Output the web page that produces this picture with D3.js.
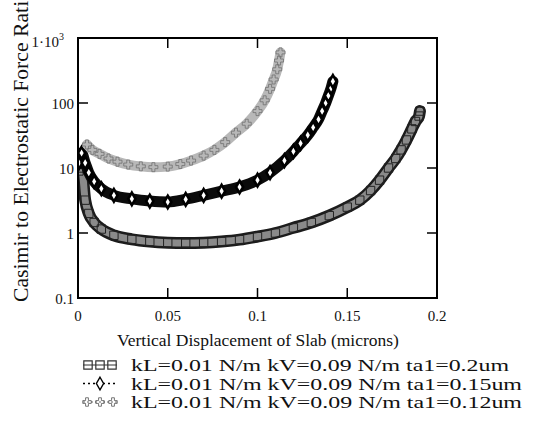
<!DOCTYPE html>
<html>
<head>
<meta charset="utf-8">
<script src="https://cdn.jsdelivr.net/npm/d3@7"></script>
<style>
body { margin: 0; background: #fff; }
text { font-family: "Liberation Serif", "Times New Roman", serif; fill: #111; }
</style>
</head>
<body>
<svg id="mainsvg" width="535" height="437"></svg>
<script>
// series: displacement (microns) and force ratio
const disp020 = [0.0005, 0.002, 0.004, 0.006, 0.009, 0.013, 0.02, 0.03, 0.04, 0.05, 0.06, 0.07, 0.08, 0.09, 0.10, 0.11, 0.12, 0.13, 0.14, 0.15, 0.157, 0.163, 0.168, 0.173, 0.177, 0.180, 0.183, 0.186, 0.188, 0.190, 0.1905];
const ratio020 = [9, 10, 3.2, 2.0, 1.45, 1.15, 0.92, 0.80, 0.74, 0.71, 0.70, 0.71, 0.74, 0.79, 0.88, 1.0, 1.2, 1.45, 1.85, 2.5, 3.2, 4.5, 6.5, 10, 14, 19, 27, 40, 52, 63, 75];

const disp015 = [0.0005, 0.002, 0.004, 0.006, 0.009, 0.013, 0.02, 0.03, 0.04, 0.05, 0.06, 0.07, 0.08, 0.09, 0.10, 0.107, 0.115, 0.12, 0.124, 0.128, 0.131, 0.134, 0.136, 0.138, 0.1395, 0.141, 0.142];
const ratio015 = [12, 17, 12, 8.5, 6.2, 4.8, 3.8, 3.35, 3.1, 3.0, 3.3, 3.8, 4.4, 5.1, 6.5, 8.5, 13, 18, 24, 32, 42, 56, 75, 100, 130, 170, 215];

const disp012 = [0.005, 0.008, 0.012, 0.017, 0.022, 0.028, 0.035, 0.042, 0.05, 0.057, 0.063, 0.07, 0.076, 0.082, 0.088, 0.094, 0.1, 0.104, 0.107, 0.109, 0.111, 0.112, 0.1128];
const ratio012 = [23, 19, 16.5, 14, 12.5, 11.3, 10.6, 10.3, 10.5, 11.5, 13, 15.5, 19, 25, 35, 48, 75, 110, 165, 230, 330, 450, 600];

const legendLabels = ["kL=0.01 N/m kV=0.09 N/m ta1=0.2um", "kL=0.01 N/m kV=0.09 N/m ta1=0.15um", "kL=0.01 N/m kV=0.09 N/m ta1=0.12um"];
const xTicks = [0, 0.05, 0.1, 0.15, 0.2];
const yTicks = [0.1, 1, 10, 100];

let svg = d3.select('#mainsvg');
const pL = 78, pR = 437, pT = 38, pB = 298;

const x = d3.scaleLinear().domain([0, 0.2]).range([pL, pR]);
const y = d3.scaleLog().domain([0.1, 1000]).range([pB, pT]);

svg.append('clipPath').attr('id', 'plotclip')
    .append('rect').attr('x', pL).attr('y', pT).attr('width', pR - pL).attr('height', pB - pT);

const line = d3.line().x(d => x(d[0])).y(d => y(d[1])).curve(d3.curveMonotoneX);
const zip = (a, b) => a.map((v, i) => [v, b[i]]);

const pts020 = zip(disp020, ratio020), pts015 = zip(disp015, ratio015), pts012 = zip(disp012, ratio012);

let plot = svg.append('g').attr('clip-path', 'url(#plotclip)');

// squares: dark edged grey band
plot.append('path').attr('d', line(pts020)).attr('fill', 'none')
    .attr('stroke', '#1c1c1c').attr('stroke-width', 12).attr('stroke-linecap', 'round');
plot.append('path').attr('d', line(pts020)).attr('fill', 'none')
    .attr('stroke', '#8a8a8a').attr('stroke-width', 7).attr('stroke-linecap', 'round');
plot.selectAll('.sq').data(pts020).enter().append('path')
    .attr('transform', d => `translate(${x(d[0])},${y(d[1])})`)
    .attr('d', d3.symbol().type(d3.symbolSquare).size(70))
    .attr('fill', 'none').attr('stroke', '#222').attr('stroke-width', 1);

// diamonds: black band
plot.append('path').attr('d', line(pts015)).attr('fill', 'none')
    .attr('stroke', '#0b0b0b').attr('stroke-width', 11).attr('stroke-linecap', 'round');
plot.selectAll('.dm').data(pts015).enter().append('path')
    .attr('transform', d => `translate(${x(d[0])},${y(d[1])})`)
    .attr('d', d3.symbol().type(d3.symbolDiamond).size(45))
    .attr('fill', '#fff').attr('stroke', '#000').attr('stroke-width', 2.6);

// crosses: light grey band
plot.append('path').attr('d', line(pts012)).attr('fill', 'none')
    .attr('stroke', '#b8b8b8').attr('stroke-width', 10).attr('stroke-linecap', 'round');
plot.selectAll('.cr').data(pts012).enter().append('path')
    .attr('transform', d => `translate(${x(d[0])},${y(d[1])})`)
    .attr('d', d3.symbol().type(d3.symbolCross).size(45))
    .attr('fill', 'none').attr('stroke', '#707070').attr('stroke-width', 0.8);

// frame
svg.append('rect').attr('x', pL).attr('y', pT).attr('width', pR - pL).attr('height', pB - pT)
    .attr('fill', 'none').attr('stroke', '#000').attr('stroke-width', 2);

// inner ticks
const tickLen = 10;
xTicks.slice(1, -1).forEach(t => {
    svg.append('line').attr('x1', x(t)).attr('x2', x(t)).attr('y1', pB).attr('y2', pB - tickLen).attr('stroke', '#000').attr('stroke-width', 1.5);
    svg.append('line').attr('x1', x(t)).attr('x2', x(t)).attr('y1', pT).attr('y2', pT + tickLen).attr('stroke', '#000').attr('stroke-width', 1.5);
});
yTicks.slice(1).forEach(t => {
    svg.append('line').attr('x1', pL).attr('x2', pL + tickLen).attr('y1', y(t)).attr('y2', y(t)).attr('stroke', '#000').attr('stroke-width', 1.5);
    svg.append('line').attr('x1', pR).attr('x2', pR - tickLen).attr('y1', y(t)).attr('y2', y(t)).attr('stroke', '#000').attr('stroke-width', 1.5);
});

// tick labels
svg.selectAll('.xl').data(xTicks).enter().append('text')
    .attr('x', d => x(d)).attr('y', 321).attr('text-anchor', 'middle')
    .attr('font-size', 15).text(d => d);
svg.selectAll('.yl').data(yTicks).enter().append('text')
    .attr('x', 74).attr('y', d => y(d) + 6).attr('text-anchor', 'end')
    .attr('font-size', 15).text(d => d);
let topLbl = svg.append('text').attr('x', 64).attr('y', 47).attr('text-anchor', 'end').attr('font-size', 15);
topLbl.append('tspan').text('1·10');
topLbl.append('tspan').attr('dy', -7).attr('font-size', 10).text('3');

// axis titles
svg.append('text').attr('x', 258).attr('y', 346).attr('text-anchor', 'middle')
    .attr('font-size', 17.5).text('Vertical Displacement of Slab (microns)');
svg.append('text').attr('transform', 'translate(28,302) rotate(-90)')
    .attr('font-size', 21).attr('textLength', 312).attr('lengthAdjust', 'spacingAndGlyphs')
    .text('Casimir to Electrostatic Force Ratio');

// legend
const legY = [365, 383.5, 402];
const legLen = [378, 391, 391];
let leg = svg.append('g');
leg.append('line').attr('x1', 83).attr('x2', 117).attr('y1', legY[0]).attr('y2', legY[0]).attr('stroke', '#333').attr('stroke-width', 1);
[88, 100, 112].forEach(px => {
    leg.append('path').attr('transform', `translate(${px},${legY[0]})`)
        .attr('d', d3.symbol().type(d3.symbolSquare).size(70))
        .attr('fill', 'none').attr('stroke', '#333').attr('stroke-width', 1.2);
});
leg.append('line').attr('x1', 83).attr('x2', 117).attr('y1', legY[1]).attr('y2', legY[1]).attr('stroke', '#000').attr('stroke-width', 1.5).attr('stroke-dasharray', '2,3');
leg.append('path').attr('transform', `translate(100,${legY[1]})`)
    .attr('d', d3.symbol().type(d3.symbolDiamond).size(45))
    .attr('fill', '#fff').attr('stroke', '#000').attr('stroke-width', 1.4);
leg.append('line').attr('x1', 83).attr('x2', 117).attr('y1', legY[2]).attr('y2', legY[2]).attr('stroke', '#666').attr('stroke-width', 1).attr('stroke-dasharray', '2,2');
[87, 100, 113].forEach(px => {
    leg.append('path').attr('transform', `translate(${px},${legY[2]})`)
        .attr('d', d3.symbol().type(d3.symbolCross).size(40))
        .attr('fill', 'none').attr('stroke', '#555').attr('stroke-width', 0.8);
});
leg.selectAll('.lt').data(legendLabels).enter().append('text')
    .attr('x', 131).attr('y', (d, i) => legY[i] + 6)
    .attr('font-size', 16.5).attr('textLength', (d, i) => legLen[i]).attr('lengthAdjust', 'spacingAndGlyphs')
    .text(d => d);
</script>
</body>
</html>
